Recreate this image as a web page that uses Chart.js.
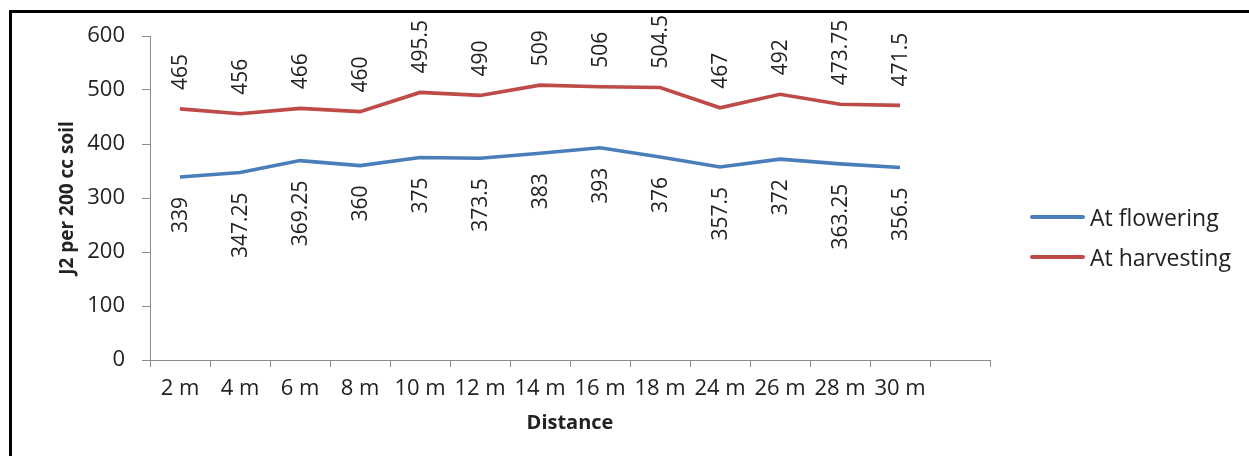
<!DOCTYPE html>
<html>
<head>
<meta charset="utf-8">
<script src="https://cdn.jsdelivr.net/npm/chart.js@4"></script>
<style>
  html, body { margin: 0; padding: 0; background: #fff; overflow: hidden; }
  #wrap { position: relative; width: 1249px; height: 456px; }
  #frame {
    position: absolute; left: 9px; top: 10px; width: 1400px; height: 600px;
    border-left: 3px solid #000; border-top: 3px solid #000; box-sizing: border-box;
  }
  #chart { position: absolute; left: 0; top: 0; }
  #legend {
    position: absolute; left: 1030px; top: 197px; margin: 0; padding: 0; list-style: none;
    font-family: 'Open Sans', sans-serif; font-size: 23px; color: #222;
  }
  #legend li { display: flex; align-items: center; height: 40px; white-space: nowrap; }
  #legend .swatch { display: inline-block; width: 55px; height: 4px; border-radius: 2px; margin-right: 5px; }
</style>
</head>
<body>
<div id="wrap">
  <div id="frame"></div>
  <canvas id="chart" width="1249" height="456"></canvas>
  <ul id="legend"></ul>
</div>
<script>
// Distances along the transect (last slot left empty on the axis)
const distances = ['2 m', '4 m', '6 m', '8 m', '10 m', '12 m', '14 m', '16 m', '18 m', '24 m', '26 m', '28 m', '30 m', ''];

// J2 counts per 200 cc soil
const atFlowering = [339, 347.25, 369.25, 360, 375, 373.5, 383, 393, 376, 357.5, 372, 363.25, 356.5];
const atHarvesting = [465, 456, 466, 460, 495.5, 490, 509, 506, 504.5, 467, 492, 473.75, 471.5];

const seriesNames = ['At flowering', 'At harvesting'];
const yTicks = { min: 0, max: 600, step: 100 };

const BLUE = '#4A7EBB';
const RED = '#BE4B48';
const AXIS = '#8c8c8c';
const TEXT = '#222222';

Chart.defaults.font.family = "'Open Sans', sans-serif";
Chart.defaults.color = TEXT;

// Rotated value labels: harvesting above its line, flowering below its line
const valueLabels = {
  id: 'valueLabels',
  afterDatasetsDraw(chart) {
    const ctx = chart.ctx;
    ctx.save();
    ctx.font = "21px 'Open Sans', sans-serif";
    ctx.fillStyle = TEXT;
    ctx.textBaseline = 'middle';
    chart.data.datasets.forEach((ds, di) => {
      const meta = chart.getDatasetMeta(di);
      const above = ds.labelSide === 'above';
      meta.data.forEach((pt, i) => {
        const v = ds.data[i];
        if (v == null) return;
        ctx.save();
        ctx.translate(pt.x + 1, above ? pt.y - 19 : pt.y + 20);
        ctx.rotate(-Math.PI / 2);
        ctx.textAlign = above ? 'left' : 'right';
        ctx.fillText(String(v), 0, 0);
        ctx.restore();
      });
    });
    ctx.restore();
  }
};

// Legend rendered as HTML beside the plot
const htmlLegend = {
  id: 'htmlLegend',
  afterUpdate(chart) {
    const ul = document.getElementById('legend');
    ul.innerHTML = '';
    const items = chart.options.plugins.legend.labels.generateLabels(chart);
    items.forEach(item => {
      const li = document.createElement('li');
      const sw = document.createElement('span');
      sw.className = 'swatch';
      sw.style.background = item.strokeStyle;
      const tx = document.createElement('span');
      tx.textContent = item.text;
      li.appendChild(sw);
      li.appendChild(tx);
      ul.appendChild(li);
    });
  }
};

new Chart(document.getElementById('chart'), {
  type: 'line',
  data: {
    labels: distances,
    datasets: [
      { label: seriesNames[0], data: atFlowering, borderColor: BLUE, backgroundColor: BLUE,
        borderWidth: 3.6, pointRadius: 0, tension: 0, labelSide: 'below' },
      { label: seriesNames[1], data: atHarvesting, borderColor: RED, backgroundColor: RED,
        borderWidth: 3.6, pointRadius: 0, tension: 0, labelSide: 'above' }
    ]
  },
  options: {
    responsive: false,
    animation: false,
    layout: { padding: { left: 12, right: 259, top: 36, bottom: 0 } },
    plugins: {
      legend: { display: false },
      tooltip: { enabled: false }
    },
    scales: {
      x: {
        offset: true,
        grid: { offset: true, drawOnChartArea: false, drawTicks: true, tickLength: 7, color: AXIS, lineWidth: 1 },
        border: { display: true, color: AXIS, width: 1 },
        ticks: { autoSkip: false, maxRotation: 0, minRotation: 0, padding: 9, color: TEXT, font: { size: 22 } },
        title: { display: true, text: 'Distance', color: TEXT, font: { size: 20, weight: 'bold' }, padding: { top: 4, bottom: 21 } },
        afterFit(scale) { scale.height = 96; }
      },
      y: {
        min: yTicks.min,
        max: yTicks.max,
        grid: { drawOnChartArea: false, drawTicks: true, tickLength: 8, color: AXIS, lineWidth: 1 },
        border: { display: true, color: AXIS, width: 1 },
        ticks: { stepSize: yTicks.step, padding: 17, color: TEXT, font: { size: 22 } },
        title: { display: true, text: 'J2 per 200 cc soil', color: TEXT, font: { size: 19, weight: 'bold' }, padding: { top: 44, bottom: 0 } },
        afterFit(scale) { scale.width = 150 - 12; }
      }
    }
  },
  plugins: [valueLabels, htmlLegend]
});
</script>
</body>
</html>
